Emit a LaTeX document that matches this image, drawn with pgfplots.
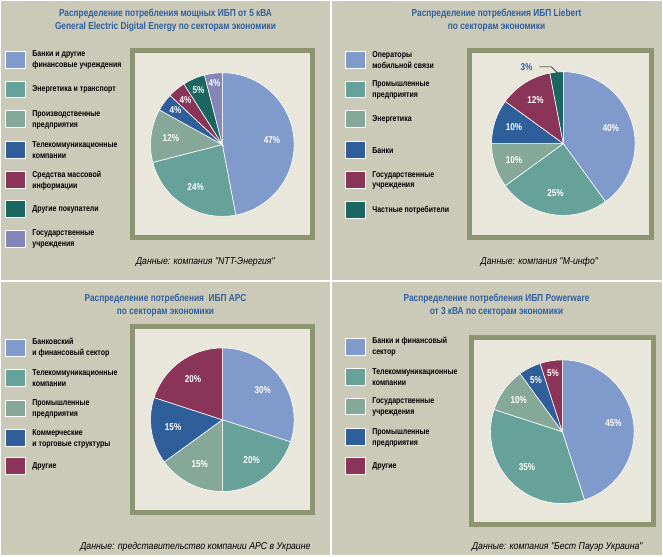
\documentclass[border=0pt]{standalone}
\usepackage{pgfplots}
\pgfplotsset{compat=1.18}
\usepackage{fontspec}
\setmainfont{Liberation Sans}
\newfontfamily\cond[FakeStretch=0.82]{Liberation Sans}
\newfontfamily\condi[FakeStretch=0.88]{Liberation Sans}
\definecolor{bg}{HTML}{CBC9B7}
\definecolor{inner}{HTML}{E9E7DC}
\definecolor{frame}{HTML}{8C9470}
\definecolor{ttl}{HTML}{2F5F9F}
\definecolor{c1}{HTML}{7F9ACB}
\definecolor{c2}{HTML}{66A19A}
\definecolor{c3}{HTML}{86A898}
\definecolor{c4}{HTML}{2F5F9A}
\definecolor{c5}{HTML}{8A3557}
\definecolor{c6}{HTML}{1A6660}
\definecolor{c7}{HTML}{8585B8}
\newcommand{\slc}[7]{%
  \fill[#5,draw=white,line width=0.6pt] (axis cs:#1,#2) -- ++(#3:72bp) arc[start angle=#3,end angle=#4,radius=72bp] -- cycle;
  \node[text=white,font=\cond\bfseries\fontsize{10}{11}\selectfont] at (axis cs:#1,#2) [shift={({(#3+#4)/2}:#7bp)}] {#6};}
\newcommand{\leg}[4]{%
  \fill[#3,draw=white,line width=0.5pt] (axis cs:#1,#2-8) rectangle (axis cs:#1+20,#2+9);
  \node[anchor=west,align=left,font=\cond\bfseries\fontsize{8.6}{11}\selectfont] at (axis cs:#1+24,#2) {#4};}
\newcommand{\bx}[4]{%
  \fill[inner,draw=frame,line width=5bp] (axis cs:#1,#2) rectangle (axis cs:#3,#4);}
\newcommand{\ttlx}[3]{%
  \node[text=ttl,align=center,font=\cond\bfseries\fontsize{10.2}{13}\selectfont] at (axis cs:#1,#2) {#3};}
\newcommand{\capt}[3]{%
  \node[font=\condi\itshape\fontsize{10}{11}\selectfont] at (axis cs:#1,#2) {#3};}
\begin{document}
\begin{tikzpicture}
\begin{axis}[scale only axis,width=663bp,height=556bp,xmin=0,xmax=663,ymin=0,ymax=556,hide axis,clip=false]
\addplot[draw=none] coordinates {(0,0) (663,556)};
\fill[bg] (axis cs:0,0) rectangle (axis cs:663,556);
\draw[white,line width=2bp] (axis cs:331,0) -- (axis cs:331,556);
\draw[white,line width=2bp] (axis cs:0,275) -- (axis cs:663,275);
% ---------- panel 1
\ttlx{165}{537}{Распределение потребления мощных ИБП от 5 кВА\\General Electric Digital Energy по секторам экономики}
\bx{132}{319}{312}{506}
\slc{222}{412}{90}{-79.2}{c1}{47\%}{50}
\slc{222}{412}{-79.2}{-165.6}{c2}{24\%}{50}
\slc{222}{412}{-165.6}{-208.8}{c3}{12\%}{52}
\slc{222}{412}{-208.8}{-223.2}{c4}{4\%}{58}
\slc{222}{412}{-223.2}{-237.6}{c5}{4\%}{58}
\slc{222}{412}{-237.6}{-255.6}{c6}{5\%}{60}
\slc{222}{412}{-255.6}{-270}{c7}{4\%}{62}
\leg{4}{497}{c1}{Банки и другие\\финансовые учреждения}
\leg{4}{467}{c2}{Энергетика и транспорт}
\leg{4}{437}{c3}{Производственные\\предприятия}
\leg{4}{406}{c4}{Телекоммуникационные\\компании}
\leg{4}{376}{c5}{Средства массовой\\информации}
\leg{4}{347}{c6}{Другие покупатели}
\leg{4}{317}{c7}{Государственные\\учреждения}
\capt{205}{294}{Данные: компания "NTT-Энергия"}
% ---------- panel 2
\ttlx{497}{537}{Распределение потребления ИБП Liebert\\по секторам экономики}
\bx{470}{319}{652}{506}
\slc{564}{413}{90}{-54}{c1}{40\%}{50}
\slc{564}{413}{-54}{-144}{c2}{25\%}{50}
\slc{564}{413}{-144}{-180}{c3}{10\%}{52}
\slc{564}{413}{-180}{-216}{c4}{10\%}{52}
\slc{564}{413}{-216}{-259.2}{c5}{12\%}{52}
\fill[c6,draw=white,line width=0.6pt] (axis cs:564,413) -- ++(-259.2:72bp) arc[start angle=-259.2,end angle=-270,radius=72bp] -- cycle;
\draw[black,line width=0.5pt] (axis cs:558,484) -- (axis cs:552,490) -- (axis cs:540,490);
\node[text=ttl,font=\cond\bfseries\fontsize{10}{11}\selectfont] at (axis cs:527,490) {3\%};
\leg{345}{497}{c1}{Операторы\\мобильной связи}
\leg{345}{467}{c2}{Промышленные\\предприятия}
\leg{345}{437}{c3}{Энергетика}
\leg{345}{406}{c4}{Банки}
\leg{345}{376}{c5}{Государственные\\учреждения}
\leg{345}{346}{c6}{Частные потребители}
\capt{540}{294}{Данные: компания "М-инфо"}
% ---------- panel 3
\ttlx{165}{251}{Распределение потребления~ ИБП APC\\по секторам экономики}
\bx{132}{43}{312}{230}
\slc{222}{136}{90}{-18}{c1}{30\%}{50}
\slc{222}{136}{-18}{-90}{c2}{20\%}{50}
\slc{222}{136}{-90}{-144}{c3}{15\%}{50}
\slc{222}{136}{-144}{-198}{c4}{15\%}{50}
\slc{222}{136}{-198}{-270}{c5}{20\%}{50}
\leg{4}{208}{c1}{Банковский\\и финансовый сектор}
\leg{4}{178}{c2}{Телекоммуникационные\\компании}
\leg{4}{147}{c3}{Промышленные\\предприятия}
\leg{4}{117}{c4}{Коммерческие\\и торговые структуры}
\leg{4}{89}{c5}{Другие}
\capt{195}{8}{Данные: представительство компании APC в Украине}
% ---------- panel 4
\ttlx{497}{251}{Распределение потребления ИБП Powerware\\от 3 кВА по секторам экономики}
\bx{472}{31}{654}{218}
\slc{563}{124}{90}{-72}{c1}{45\%}{52}
\slc{563}{124}{-72}{-198}{c2}{35\%}{50}
\slc{563}{124}{-198}{-234}{c3}{10\%}{54}
\slc{563}{124}{-234}{-252}{c4}{5\%}{58}
\slc{563}{124}{-252}{-270}{c5}{5\%}{60}
\leg{345}{209}{c1}{Банки и финансовый\\сектор}
\leg{345}{179}{c2}{Телекоммуникационные\\компании}
\leg{345}{149}{c3}{Государственные\\учреждения}
\leg{345}{118}{c4}{Промышленные\\предприятия}
\leg{345}{89}{c5}{Другие}
\capt{558}{8}{Данные: компания "Бест Пауэр Украина"}
\end{axis}
\end{tikzpicture}
\end{document}
